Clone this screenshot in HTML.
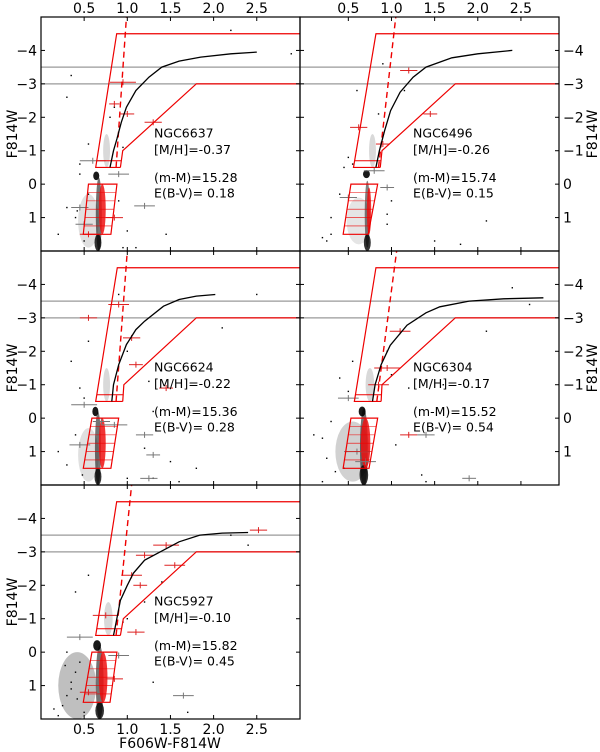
<!DOCTYPE html>
<html><head><meta charset="utf-8">
<style>
html,body{margin:0;padding:0;background:#fff;}
svg{display:block;font-family:"DejaVu Sans","Liberation Sans",sans-serif;}
</style></head>
<body>
<svg id="chart" width="600" height="752" viewBox="0 0 600 752"></svg>
<script>
// ---- data arrays ----
const panelNames = ["NGC6637","NGC6496","NGC6624","NGC6304","NGC5927"];
const metallicities = ["-0.37","-0.26","-0.22","-0.17","-0.10"];
const distanceModuli = ["15.28","15.74","15.36","15.52","15.82"];
const reddenings = ["0.18","0.15","0.28","0.54","0.45"];
const xTicks = [0.5,1.0,1.5,2.0,2.5];
const xTickLabels = ["0.5","1.0","1.5","2.0","2.5"];
const yTicks = [-4,-3,-2,-1,0,1];
const yTickLabels = ["\u22124","\u22123","\u22122","\u22121","0","1"];
const grayLines = [-3.5,-3.0];
const curveX = [
 [0.80,0.84,0.88,0.93,0.99,1.10,1.25,1.40,1.60,1.85,2.20,2.50],
 [0.82,0.86,0.92,0.99,1.10,1.25,1.40,1.70,2.00,2.40],
 [0.82,0.84,0.90,0.99,1.10,1.20,1.42,1.60,1.80,2.02],
 [0.78,0.81,0.88,0.985,1.18,1.40,1.56,1.90,2.30,2.76],
 [0.84,0.86,0.92,1.00,1.07,1.20,1.38,1.60,1.84,2.10,2.40]
];
const curveY = [
 [-0.5,-1.0,-1.35,-1.85,-2.3,-2.8,-3.2,-3.5,-3.68,-3.8,-3.9,-3.95],
 [-0.5,-1.0,-1.6,-2.2,-2.75,-3.2,-3.5,-3.78,-3.9,-4.0],
 [-0.5,-1.0,-1.6,-2.2,-2.65,-2.9,-3.35,-3.55,-3.65,-3.7],
 [-0.5,-1.0,-1.6,-2.18,-2.78,-3.15,-3.33,-3.5,-3.57,-3.6],
 [-0.5,-0.75,-1.55,-2.0,-2.36,-2.75,-3.0,-3.3,-3.5,-3.56,-3.58]
];
const boxBlueBottomX = [0.634,0.56,0.634,0.57,0.634];
const boxBlueTopX = [0.877,0.82,0.884,0.82,0.877];
const boxRedBottomX = [0.92,0.87,0.947,0.88,0.92];
const boxRedKneeX = [0.947,0.89,0.96,0.89,0.954];
const boxRedTopX = [1.80,1.74,1.80,1.74,1.80];
const lowTL = [0.55,0.53,0.59,0.53,0.59];
const lowTR = [0.88,0.84,0.90,0.84,0.88];
const lowBR = [0.81,0.73,0.81,0.74,0.80];
const lowBL = [0.49,0.44,0.49,0.44,0.49];
const dashBottomX = [0.87,0.85,0.87,0.83,0.87];
const dashTopX = [0.99,1.05,1.00,1.06,1.05];
const blobBlackX = [[0.67,0.64,0.66,0.55,0.76],[0.72,0.71,0.72,0.62,0.78],[0.66,0.63,0.66,0.55,0.76],[0.68,0.66,0.68,0.55,0.75],[0.68,0.65,0.68,0.42,0.78]];
const blobBlackY = [[0.9,-0.25,1.75,1.1,-1.0],[0.9,-0.3,1.75,1.1,-1.0],[0.9,-0.2,1.75,1.1,-1.0],[0.9,-0.2,1.7,1.0,-1.0],[0.9,-0.2,1.75,1.0,-1.0]];
const blobBlackRX = [[0.035,0.035,0.04,0.12,0.04],[0.03,0.04,0.04,0.14,0.04],[0.035,0.035,0.04,0.12,0.04],[0.045,0.04,0.05,0.2,0.05],[0.045,0.045,0.05,0.22,0.05]];
const blobBlackRY = [[1.1,0.13,0.25,0.8,0.5],[1.0,0.12,0.25,0.7,0.5],[1.1,0.14,0.25,0.8,0.5],[1.2,0.15,0.3,0.9,0.5],[1.1,0.16,0.25,1.0,0.5]];
const blobBlackOpacity = [[0.55,0.9,0.8,0.12,0.15],[0.5,0.9,0.8,0.1,0.15],[0.55,0.9,0.8,0.12,0.15],[0.55,0.9,0.8,0.18,0.15],[0.55,0.9,0.8,0.25,0.15]];
const blobRedX = [0.71,0.74,0.71,0.70,0.72];
const blobRedY = [0.75,0.8,0.75,0.75,0.75];
const blobRedRX = [0.04,0.025,0.04,0.055,0.05];
const blobRedRY = [0.75,0.7,0.75,0.75,0.75];
const starX = [
 [0.35,0.3,0.45,0.55,0.5,0.2,0.4,0.95,1.1,1.45,2.2,2.9,0.45,0.5,0.95,0.3,0.85,0.8,1.0,0.55,0.42,0.9],
 [0.3,0.45,0.55,0.6,0.2,0.4,1.15,1.5,2.1,0.95,0.9,0.3,0.25,0.95,1.8,0.5,0.85,1.0],
 [0.4,0.5,0.3,0.2,0.35,1.0,1.2,1.5,1.8,2.1,2.5,1.25,1.3,0.45,0.55,0.9,1.0,0.48,1.3,1.6],
 [0.3,0.2,0.4,0.5,0.35,0.25,1.2,1.6,2.1,2.4,2.6,0.1,0.95,1.0,1.05,0.45,1.35,1.4,0.55,0.2],
 [0.3,0.35,0.4,0.25,0.45,0.5,0.2,0.3,0.55,0.15,0.4,0.35,1.2,1.4,1.7,2.2,2.4,1.0,0.95,1.3,0.28,0.42]
];
const starY = [
 [-3.25,-2.6,-0.6,0.3,1.2,1.5,1.0,1.9,1.9,1.5,-4.6,-3.9,-0.3,1.7,-1.1,0.7,-2.3,-2.0,1.4,-1.2,0.8,0.5],
 [1.0,-0.5,-0.6,-2.8,1.6,0.3,-2.8,1.7,1.1,1.2,-3.6,1.5,1.7,0.9,1.8,-0.8,-2.1,0.5],
 [0.5,-0.6,1.4,1.0,-1.7,-2.0,0.9,1.3,1.5,-2.7,-3.7,-1.1,-0.2,-0.9,-2.3,-3.7,1.8,1.7,1.8,1.9],
 [0.1,0.6,-1.2,-0.8,1.6,1.2,-0.9,-1.0,-2.6,-3.9,-3.4,0.5,-2.0,-1.3,0.8,1.5,1.7,1.9,-1.7,1.9],
 [1.3,0.9,0.6,1.6,0.3,1.8,1.9,0.0,-2.3,1.7,-1.8,1.1,-1.5,-2.1,1.8,-3.5,-3.2,-1.0,-0.9,0.9,0.4,1.4]
];
const errX = [
 [0.95,0.85,1.0,1.3,0.6,0.45,0.5,0.85,1.2,0.9,0.55],
 [0.62,0.9,1.2,1.45,0.8,0.5,0.95],
 [0.55,0.9,1.05,1.1,1.45,0.5,0.45,1.2,0.7,1.3,0.85,1.25],
 [1.1,0.95,0.5,1.2,1.4,0.85,0.6,0.7,1.9],
 [1.45,1.55,1.2,1.05,1.15,0.75,0.45,1.65,2.52,0.85,0.9,0.55,1.1]
];
const errY = [
 [-3.05,-2.4,-2.1,-1.85,-0.7,0.7,1.2,1.0,0.65,-0.3,1.5],
 [-1.7,-1.2,-3.4,-2.1,-0.4,0.4,0.1],
 [-3.0,-3.4,-2.4,-1.6,-0.9,-0.4,0.8,0.5,0.1,1.1,0.2,1.8],
 [-2.6,-1.5,-0.6,0.5,0.5,-1.0,1.0,1.3,1.8],
 [-3.2,-2.6,-2.9,-2.3,-2.0,-1.1,-0.45,1.3,-3.65,0.8,0.1,1.2,-0.6]
];
const errW = [
 [0.15,0.06,0.08,0.1,0.15,0.1,0.1,0.1,0.12,0.12,0.1],
 [0.1,0.08,0.1,0.08,0.12,0.1,0.08],
 [0.1,0.12,0.1,0.08,0.08,0.15,0.12,0.1,0.1,0.08,0.15,0.1],
 [0.12,0.15,0.12,0.1,0.1,0.12,0.15,0.12,0.08],
 [0.15,0.12,0.1,0.12,0.08,0.15,0.15,0.12,0.1,0.1,0.12,0.1,0.1]
];
const errRed = [
 [1,1,1,1,0,0,0,1,0,0,1],
 [1,1,1,1,0,0,0],
 [1,1,1,1,1,0,0,0,0,0,0,0],
 [1,1,0,1,0,1,0,0,0],
 [1,1,1,1,1,1,0,0,1,1,0,1,1]
];
// ---- layout ----
const layoutLeft = [41,300,41,300,41];
const layoutTop = [17,17,251,251,485];
const layoutXmin = [0,-0.06,0,-0.06,0];
const PW = 259, PH = 234, XS = 86.3, YS = 33.43;
const svg = document.getElementById('chart');
const NS = 'http://www.w3.org/2000/svg';
function mk(tag, attrs, parent){
  const e = document.createElementNS(NS, tag);
  for (const k in attrs) e.setAttribute(k, attrs[k]);
  (parent||svg).appendChild(e);
  return e;
}
for (let p = 0; p < 5; p++) {
  const L = layoutLeft[p], T = layoutTop[p], xm = layoutXmin[p];
  const sx = x => L + (x - xm) * XS;
  const sy = y => T + (y + 5) * YS;
  const xmax = xm + PW / XS;
  const g = mk('g', {});
  
  
  const clipId = 'clip' + p;
  const cp = mk('clipPath', {id: clipId}, g);
  mk('rect', {x: L, y: T, width: PW, height: PH}, cp);
  const plot = mk('g', {'clip-path': 'url(#' + clipId + ')'}, g);
  grayLines.forEach(v => {
    const l = mk('line', {x1: L, x2: L + PW, y1: sy(v), y2: sy(v), stroke: '#9a9a9a', 'stroke-width': 1.2}, plot);
    
    
  });
  for (let i = 0; i < blobBlackX[p].length; i++) {
    const e = mk('ellipse', {cx: sx(blobBlackX[p][i]), cy: sy(blobBlackY[p][i]), rx: blobBlackRX[p][i] * XS, ry: blobBlackRY[p][i] * YS, fill: '#000', 'fill-opacity': blobBlackOpacity[p][i]}, plot);
    
    
  }
  const rb = mk('ellipse', {cx: sx(blobRedX[p]), cy: sy(blobRedY[p]), rx: blobRedRX[p] * XS, ry: blobRedRY[p] * YS, fill: '#e11', 'fill-opacity': 0.85}, plot);
  
  
  for (let i = 0; i < starX[p].length; i++) {
    const c = mk('rect', {x: sx(starX[p][i]) - 0.7, y: sy(starY[p][i]) - 0.7, width: 1.4, height: 1.4, fill: '#000'}, plot);
    
    
  }
  for (let i = 0; i < errX[p].length; i++) {
    const col = errRed[p][i] ? '#d22' : '#777';
    const x = sx(errX[p][i]), y = sy(errY[p][i]), w = errW[p][i] * XS;
    const eg = mk('g', {stroke: col, 'stroke-width': 1}, plot);
    
    
    mk('line', {x1: x - w, x2: x + w, y1: y, y2: y}, eg);
    mk('line', {x1: x, x2: x, y1: y - 3, y2: y + 3}, eg);
  }
  const poly = [[boxRedBottomX[p], -0.5], [boxBlueBottomX[p], -0.5], [boxBlueTopX[p], -4.5], [xmax + 1, -4.5]];
  const poly2 = [[xmax + 1, -3], [boxRedTopX[p], -3], [boxRedKneeX[p], -1], [boxRedBottomX[p], -0.5]];
  const pl = mk('polyline', {points: poly.map(q => sx(q[0]) + ',' + sy(q[1])).join(' '), fill: 'none', stroke: '#e00', 'stroke-width': 1.2}, plot);
  
  
  const pl2 = mk('polyline', {points: poly2.map(q => sx(q[0]) + ',' + sy(q[1])).join(' '), fill: 'none', stroke: '#e00', 'stroke-width': 1.2}, plot);
  
  
  const sub = mk('line', {x1: sx(boxBlueBottomX[p] + 0.013), x2: sx(boxRedBottomX[p] + 0.01), y1: sy(-0.7), y2: sy(-0.7), stroke: '#e00', 'stroke-width': 1}, plot);
  
  
  const lb = mk('polygon', {points: [[lowTL[p], 0], [lowTR[p], 0], [lowBR[p], 1.5], [lowBL[p], 1.5]].map(q => sx(q[0]) + ',' + sy(q[1])).join(' '), fill: 'none', stroke: '#e00', 'stroke-width': 1.2}, plot);
  
  
  for (let k = 1; k < 6; k++) {
    const f = k / 6, yy = 1.5 * f;
    const xl = lowTL[p] + (lowBL[p] - lowTL[p]) * f, xr = lowTR[p] + (lowBR[p] - lowTR[p]) * f;
    mk('line', {x1: sx(xl), x2: sx(xr), y1: sy(yy), y2: sy(yy), stroke: '#e00', 'stroke-width': 0.6}, plot);
  }
  const dl = mk('line', {x1: sx(dashBottomX[p]), y1: sy(-0.5), x2: sx(dashTopX[p]), y2: sy(-5), stroke: '#e00', 'stroke-width': 1.4, 'stroke-dasharray': '6,4'}, plot);
  
  
  let d = '';
  curveX[p].forEach((x, i) => { d += (i ? 'L' : 'M') + sx(x).toFixed(1) + ',' + sy(curveY[p][i]).toFixed(1); });
  const cv = mk('path', {d: d, fill: 'none', stroke: '#000', 'stroke-width': 1.3}, plot);
  
  
  const fr = mk('rect', {x: L, y: T, width: PW, height: PH, fill: 'none', stroke: '#000', 'stroke-width': 1.2}, g);
  
  
  xTicks.forEach((v, i) => {
    const x = sx(v);
    mk('line', {x1: x, x2: x, y1: T, y2: T + 4, stroke: '#000'}, g);
    mk('line', {x1: x, x2: x, y1: T + PH, y2: T + PH - 4, stroke: '#000'}, g);
    if (p < 2) {
      const t = mk('text', {x: x, y: 13, 'font-size': 14, 'text-anchor': 'middle'}, g);
      t.textContent = xTickLabels[i];
      
      
    }
    if (p === 4) {
      const t = mk('text', {x: x, y: T + PH + 15, 'font-size': 14, 'text-anchor': 'middle'}, g);
      t.textContent = xTickLabels[i];
      
      
    }
  });
  yTicks.forEach((v, i) => {
    const y = sy(v);
    mk('line', {x1: L, x2: L + 4, y1: y, y2: y, stroke: '#000'}, g);
    mk('line', {x1: L + PW, x2: L + PW - 4, y1: y, y2: y, stroke: '#000'}, g);
    const right = (p % 2 === 1);
    const t = mk('text', {x: right ? L + PW + 4 : L - 4, y: y + 5, 'font-size': 14, 'text-anchor': right ? 'start' : 'end'}, g);
    t.textContent = yTickLabels[i];
    
    
  });
  const yt = mk('text', {'font-size': 14, 'text-anchor': 'middle', transform: (p % 2 === 1) ? 'translate(597,' + (T + 117) + ') rotate(-90)' : 'translate(17,' + (T + 117) + ') rotate(-90)'}, g);
  yt.textContent = 'F814W';
  
  
  const tx = sx(p % 2 === 1 ? 1.25 : 1.31);
  const lines = [panelNames[p], '[M/H]=' + metallicities[p], '(m-M)=' + distanceModuli[p], 'E(B-V)= ' + reddenings[p]];
  const ly = [-1.55, -1.05, -0.22, 0.25];
  const ag = mk('g', {}, g);
  
  
  lines.forEach((s, i) => {
    const t = mk('text', {x: tx, y: sy(ly[i]) + 5, 'font-size': 12.5}, ag);
    t.textContent = s;
  });
}
const xt = mk('text', {x: 170, y: 748, 'font-size': 14, 'text-anchor': 'middle'});
xt.textContent = 'F606W-F814W';


</script>
</body></html>
